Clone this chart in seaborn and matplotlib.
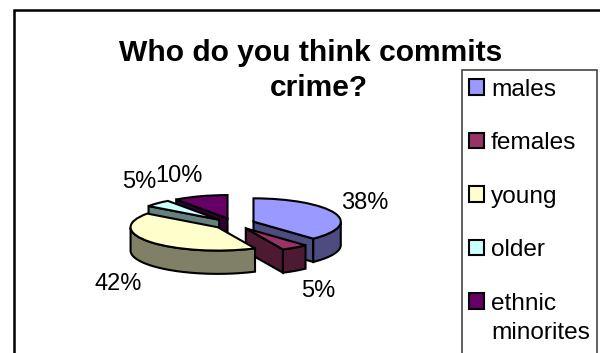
import numpy as np
import matplotlib
matplotlib.use('Agg')
import matplotlib.pyplot as plt
import seaborn as sns
from matplotlib.patches import Polygon, Rectangle

categories = ['males', 'females', 'young', 'older', 'ethnic\nminorites']
values = [38, 5, 42, 5, 10]
top_colors = ['#9999FF', '#993366', '#FFFFCC', '#CCFFFF', '#660066']
side_colors = ['#4C4C80', '#4D1933', '#808066', '#668080', '#330033']
draw_order = [4, 3, 0, 1, 2]
title = 'Who do you think commits\ncrime?'

W, H = 600, 353
CX, CY = 234.0, 223.7    # pie centre in pixels
RX, RY = 87.3, 23.3      # squashed radius in pixels
DEPTH = 1.0

sns.set_theme(style='white')
plt.rcParams['font.family'] = ['Liberation Sans', 'DejaVu Sans']


def px(x, y):
    # picture pixels to data units of the pie axes
    return (x - CX) / RX, (CY - y) / RY


fig = plt.figure(figsize=(W / 100, H / 100), dpi=100)
ax = fig.add_axes([0, 0, 1, 1])
wedges, _ = ax.pie(values, explode=[0.24] * 5, startangle=90, counterclock=False,
                   colors=top_colors, wedgeprops={'edgecolor': 'black', 'linewidth': 1.5})
ax.set_aspect('auto')
ax.set_xlim(px(0, 0)[0], px(W, 0)[0])
ax.set_ylim(px(0, H)[1], px(0, 0)[1])
ax.axis('off')

for rank, i in enumerate(draw_order):
    w = wedges[i]
    cx, cy = w.center
    t1, t2 = w.theta1, w.theta2
    base = 10 + rank * 4
    w.set_zorder(base + 3)
    edge_style = {'facecolor': side_colors[i], 'edgecolor': 'black', 'linewidth': 1.5}
    # radial faces that look at the viewer
    for t, sign in ((t1, 1), (t2, -1)):
        rx, ry = np.cos(np.radians(t)), np.sin(np.radians(t))
        ny = -sign * rx
        if ny < -1e-6:
            pts = [(cx, cy), (cx + rx, cy + ry), (cx + rx, cy + ry - DEPTH), (cx, cy - DEPTH)]
            ax.add_patch(Polygon(pts, zorder=base + 1, **edge_style))
    # outer rim, front half only
    th = np.radians(np.linspace(t1, t2, 120))
    th = th[np.sin(th) < 0]
    if len(th):
        upper = np.column_stack([cx + np.cos(th), cy + np.sin(th)])
        lower = upper[::-1] - [0, DEPTH]
        ax.add_patch(Polygon(np.vstack([upper, lower]), zorder=base + 2, **edge_style))

# percent labels
label_xy = [(365, 203), (318, 291), (118, 284), (139, 182), (179, 176)]
for v, (x, y) in zip(values, label_xy):
    ax.text(*px(x, y), f'{v}%', fontsize=17, color='black', ha='center', va='center', zorder=40)

# title lines are not quite centred on each other in the reference
for line, (x, y) in zip(title.split('\n'), [(311, 53), (319, 88)]):
    ax.text(*px(x, y), line, fontsize=21.6, fontweight='bold', color='black',
            ha='center', va='center', zorder=40)

# chart frame and legend box run off the picture
ax.add_patch(Rectangle(px(13.5, 400), 640 / RX, 390 / RY, fill=False, edgecolor='black', linewidth=1.8, zorder=30))
ax.add_patch(Rectangle(px(462, 400), 135 / RX, 330 / RY, facecolor='white', edgecolor='#444444', linewidth=1.2, zorder=31))

# the legend row only holds the first line so the swatch sits next to it
first_lines = [c.split('\n')[0] for c in categories]
leg = ax.legend(wedges, first_lines, loc='upper left', bbox_to_anchor=(469 / W, 1 - 78.5 / H),
                frameon=False, fontsize=17.6, handlelength=0.6, handleheight=0.6,
                handletextpad=0.3, labelspacing=1.29, borderpad=0, borderaxespad=0,
                labelcolor='black')
leg.set_zorder(45)
ax.text(*px(491, 333), categories[-1].split('\n')[1], fontsize=17.6, color='black',
        ha='left', va='center', zorder=45)

fig.savefig('out.png', dpi=100)
